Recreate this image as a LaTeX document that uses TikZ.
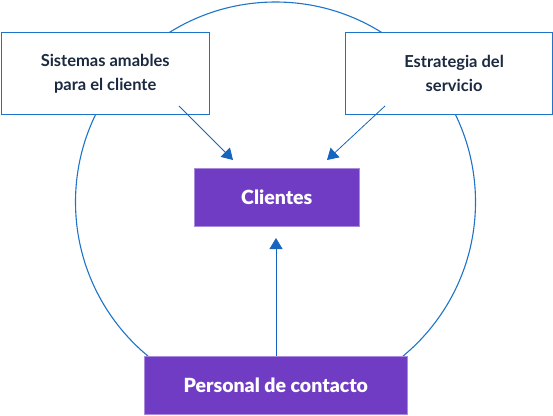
\documentclass[tikz,border=0pt]{standalone}
\usepackage{fontspec}
\setmainfont{Lato}
\newfontface\latoheavy{Lato Black}
\usetikzlibrary{arrows.meta}
\definecolor{purp}{HTML}{6F3CC3}
\definecolor{bblue}{HTML}{1E74C8}
\definecolor{ablue}{HTML}{1565C0}
\definecolor{navy}{HTML}{1B2A41}
\tikzset{
  x=1pt,y=-1pt,
  whitebox/.style={draw=bblue,line width=1.2pt,fill=white,anchor=north west,inner sep=0pt,
    align=center,text=navy,font=\fontsize{16.5}{24}\selectfont\bfseries},
  purplebox/.style={fill=purp,draw=purp!60!white,line width=0.6pt,anchor=north west,inner sep=0pt,
    text=white,font=\fontsize{19.5}{22}\selectfont\latoheavy},
  conn/.style={draw=ablue,line width=0.8pt,-{Triangle[length=11pt,width=13pt]}},
}
\begin{document}
\begin{tikzpicture}
\useasboundingbox (0,0) rectangle (553,415);
\draw[bblue,line width=1.1pt] (275.5,202) circle[radius=200];
\node[whitebox,minimum width=208,minimum height=82] (sis) at (0.6,32) {Sistemas amables\\para el cliente};
\node[whitebox,minimum width=207,minimum height=82] (est) at (345,32) {\hspace{10pt}Estrategia del\\\hspace{10pt}servicio};
\node[purplebox,minimum width=165,minimum height=58] (cli) at (194,168) {Clientes};
\node[purplebox,minimum width=263,minimum height=58] (per) at (144,356) {Personal de contacto};
\coordinate (s1) at (179,106);
\coordinate (s2) at (385,106);
\coordinate (t1) at (233,160);
\coordinate (t2) at (327,160);
\coordinate (t3) at (276,238);
\draw[conn] (s1) -- (t1);
\draw[conn] (s2) -- (t2);
\draw[conn] (per.north -| t3) -- (t3);
\end{tikzpicture}
\end{document}
